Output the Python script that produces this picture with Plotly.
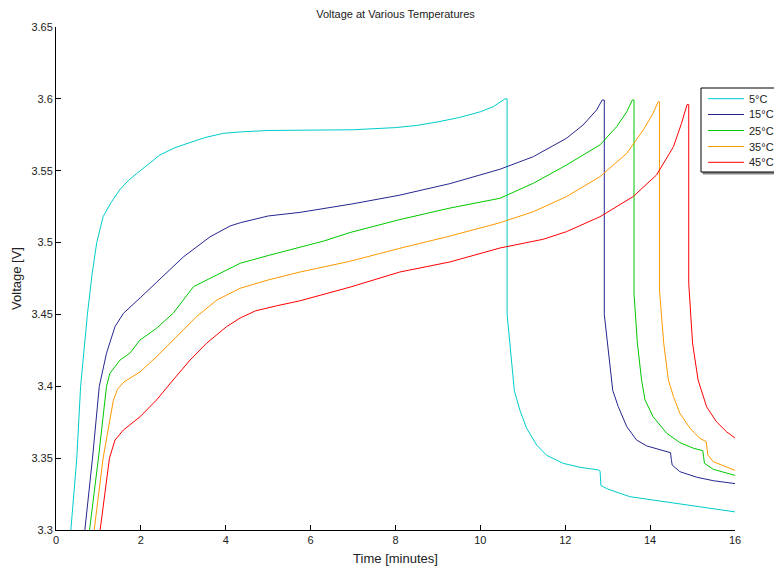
import plotly.graph_objects as go

# Time [minutes] and Voltage [V] per temperature
t_5 = [0.35, 0.49, 0.58, 0.66, 0.74, 0.85, 0.96, 1.11, 1.30, 1.51, 1.70, 1.90, 2.20, 2.45, 2.80, 3.16, 3.50, 3.94, 4.34,
       5.0, 6.0, 7.0, 8.0, 8.5, 9.0, 9.5, 10.0, 10.3, 10.58, 10.63, 10.63, 10.72, 10.80, 10.93, 11.09, 11.33, 11.56,
       11.95, 12.35, 12.78, 12.82, 12.84, 13.0, 13.52, 14.70, 15.95, 16.0]
v_5 = [3.300, 3.350, 3.400, 3.425, 3.450, 3.478, 3.500, 3.518, 3.528, 3.537, 3.543, 3.548, 3.555, 3.561, 3.566, 3.5695,
       3.573, 3.576, 3.577, 3.578, 3.578, 3.5785, 3.580, 3.5815, 3.584, 3.587, 3.591, 3.5945, 3.600, 3.600, 3.450, 3.420,
       3.397, 3.3835, 3.3708, 3.359, 3.352, 3.3464, 3.3436, 3.3418, 3.341, 3.331, 3.3285, 3.3232, 3.318, 3.3128, 3.3126]

t_15 = [0.68, 0.86, 1.02, 1.19, 1.39, 1.59, 2.0, 2.5, 3.0, 3.63, 4.10, 4.34, 5.0, 5.75, 7.0, 8.1, 9.28, 10.46, 11.25,
        12.03, 12.42, 12.74, 12.87, 12.92, 12.92, 13.12, 13.25, 13.45, 13.68, 13.92, 14.23, 14.48, 14.50, 14.52, 14.70,
        15.10, 15.49, 15.96, 16.0]
v_15 = [3.300, 3.350, 3.400, 3.423, 3.4415, 3.4508, 3.462, 3.476, 3.490, 3.504, 3.5115, 3.5138, 3.5185, 3.521, 3.527,
        3.533, 3.541, 3.551, 3.5598, 3.5726, 3.5818, 3.5923, 3.5992, 3.5992, 3.450, 3.397, 3.3858, 3.3719, 3.3626,
        3.3585, 3.3557, 3.3538, 3.349, 3.3452, 3.3406, 3.3367, 3.3343, 3.3325, 3.3323]

t_25 = [0.79, 1.0, 1.19, 1.27, 1.51, 1.74, 1.98, 2.37, 2.76, 3.24, 3.71, 4.34, 5.0, 5.75, 6.3, 6.93, 8.1, 9.28, 10.46,
        11.25, 12.03, 12.82, 13.21, 13.45, 13.58, 13.62, 13.62, 13.70, 13.80, 13.88, 14.07, 14.39, 14.70, 15.02, 15.24,
        15.26, 15.28, 15.49, 15.96, 16.0]
v_25 = [3.300, 3.350, 3.400, 3.409, 3.4183, 3.423, 3.4322, 3.4404, 3.4508, 3.4693, 3.4763, 3.4856, 3.491, 3.497, 3.501,
        3.507, 3.516, 3.524, 3.5308, 3.5413, 3.554, 3.568, 3.5806, 3.591, 3.5992, 3.5992, 3.4647, 3.430, 3.404, 3.3905,
        3.3788, 3.3673, 3.3608, 3.3569, 3.3552, 3.351, 3.3464, 3.3422, 3.3383, 3.338]

t_35 = [0.90, 1.11, 1.35, 1.45, 1.60, 1.98, 2.37, 2.76, 3.31, 3.79, 4.34, 5.0, 5.75, 6.93, 8.1, 9.28, 10.46, 11.25,
        12.03, 12.82, 13.45, 13.84, 14.07, 14.19, 14.22, 14.22, 14.32, 14.43, 14.55, 14.70, 14.94, 15.17, 15.32, 15.34,
        15.36, 15.49, 15.96, 16.0]
v_35 = [3.300, 3.350, 3.390, 3.398, 3.403, 3.410, 3.4206, 3.4322, 3.4484, 3.460, 3.4682, 3.474, 3.4795, 3.487, 3.496,
        3.5045, 3.5138, 3.5215, 3.532, 3.5459, 3.5621, 3.5784, 3.590, 3.598, 3.598, 3.467, 3.430, 3.4044, 3.3928, 3.3812,
        3.3708, 3.3638, 3.3615, 3.357, 3.3522, 3.3475, 3.3418, 3.3415]

t_45 = [1.04, 1.26, 1.39, 1.59, 1.98, 2.37, 2.76, 3.16, 3.55, 4.02, 4.34, 4.70, 5.20, 5.75, 6.93, 8.1, 9.28, 10.46,
        11.48, 12.03, 12.82, 13.6, 14.15, 14.55, 14.74, 14.87, 14.91, 14.91, 15.0, 15.13, 15.33, 15.56, 15.80, 15.96,
        16.0]
v_45 = [3.300, 3.350, 3.3626, 3.3696, 3.3788, 3.3905, 3.4044, 3.4183, 3.430, 3.4415, 3.4475, 3.4525, 3.456, 3.4595,
        3.469, 3.4795, 3.4865, 3.4962, 3.5023, 3.5076, 3.518, 3.532, 3.547, 3.5667, 3.583, 3.596, 3.596, 3.4717, 3.430,
        3.4044, 3.3858, 3.3754, 3.3684, 3.3649, 3.364]

series_names = ["5°C", "15°C", "25°C", "35°C", "45°C"]
series_colors = ["#00CCCC", "#262690", "#00C800", "#FF9900", "#FF0000"]

x_ticks = [0, 2, 4, 6, 8, 10, 12, 14, 16]
y_ticks = [3.3, 3.35, 3.4, 3.45, 3.5, 3.55, 3.6, 3.65]
y_tick_text = ["3.3", "3.35", "3.4", "3.45", "3.5", "3.55", "3.6", "3.65"]

W, H = 774, 570
ML, MR, MT, MB = 56, 39, 27, 40
PW, PH = W - ML - MR, H - MT - MB


def px_x(p):
    return (p - ML) / PW


def px_y(p):
    return (H - MB - p) / PH


fig = go.Figure()
for t, v, name, color in zip([t_5, t_15, t_25, t_35, t_45], [v_5, v_15, v_25, v_35, v_45],
                             series_names, series_colors):
    fig.add_trace(go.Scatter(x=t, y=v, mode="lines", name=name, line=dict(color=color, width=1),
                             showlegend=False))

# Legend box (drawn in paper coordinates, clipped by the window on the right like the reference)
shapes = [
    dict(type="rect", xref="paper", yref="paper", x0=px_x(703), x1=px_x(790), y0=px_y(174), y1=px_y(90),
         line=dict(color="#888888", width=1), fillcolor="#888888", layer="above"),
    dict(type="rect", xref="paper", yref="paper", x0=px_x(701), x1=px_x(788), y0=px_y(172), y1=px_y(88),
         line=dict(color="black", width=1), fillcolor="white", layer="above"),
]
annotations = []
entry_y = [98.7, 114.5, 130.5, 146.5, 162.3]
for name, color, ey in zip(series_names, series_colors, entry_y):
    shapes.append(dict(type="line", xref="paper", yref="paper", x0=px_x(708), x1=px_x(744),
                       y0=px_y(ey), y1=px_y(ey), line=dict(color=color, width=1), layer="above"))
    annotations.append(dict(xref="paper", yref="paper", x=px_x(747), y=px_y(ey), text=name, showarrow=False,
                            xanchor="left", yanchor="middle", font=dict(size=11, color="#222222")))

font = dict(family="Liberation Sans, Arial, sans-serif", size=11, color="#222222")
fig.update_layout(
    width=W, height=H,
    margin=dict(l=ML, r=MR, t=MT, b=MB, autoexpand=False),
    paper_bgcolor="white", plot_bgcolor="white",
    font=font,
    title=dict(text="Voltage at Various Temperatures", x=0.5, xref="paper", y=0.975, yanchor="middle",
               font=dict(size=11)),
    showlegend=False,
    shapes=shapes,
    annotations=annotations,
    xaxis=dict(range=[0, 16], tickvals=x_ticks, ticks="inside", ticklen=5, tickcolor="black",
               showline=True, linecolor="black", linewidth=1, showgrid=False, zeroline=False,
               title=dict(text="Time [minutes]", standoff=8)),
    yaxis=dict(range=[3.3, 3.65], tickvals=y_ticks, ticktext=y_tick_text, ticks="inside", ticklen=5,
               tickcolor="black", showline=True, linecolor="black", linewidth=1, showgrid=False,
               zeroline=False, title=dict(text="Voltage [V]", standoff=6)),
)
fig.write_html("out.html")
